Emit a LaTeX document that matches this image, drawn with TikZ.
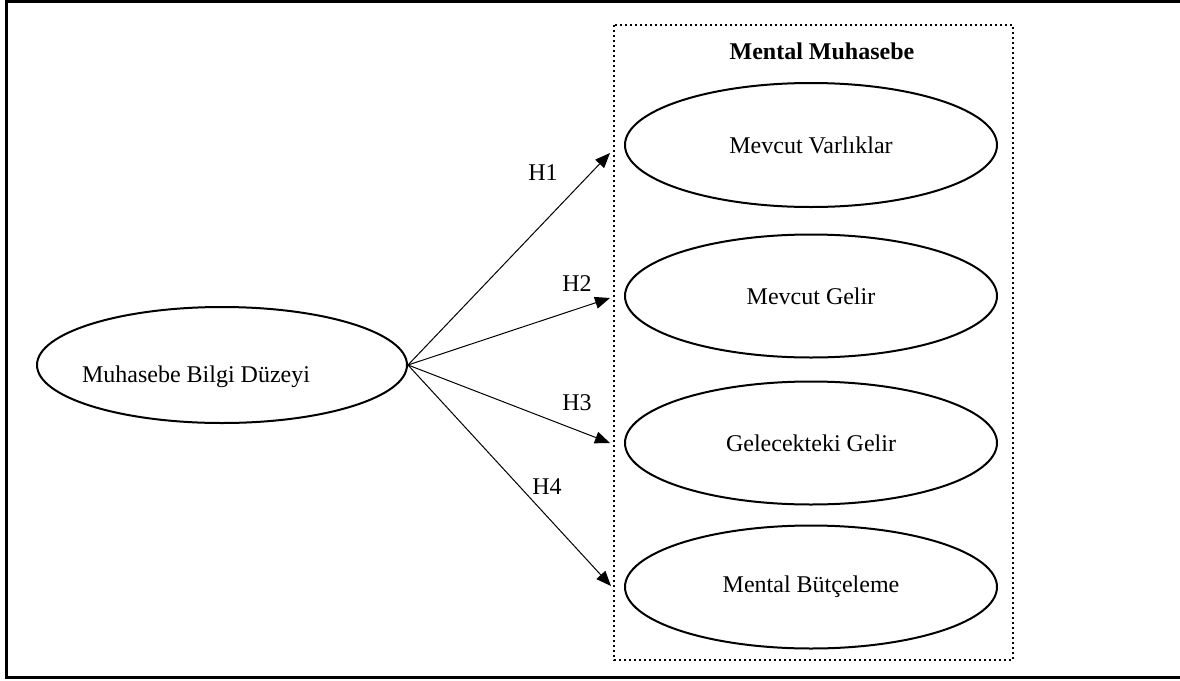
\documentclass[tikz,border=0pt]{standalone}
\usepackage{fontspec}
\setmainfont{Liberation Serif}
\usetikzlibrary{shapes.geometric,arrows.meta}
\tikzset{
  oval/.style={draw, ellipse, line width=1pt, minimum width=186pt, minimum height=61.5pt, inner sep=0pt},
  txt/.style={font=\fontsize{12}{14}\selectfont},
  hyp/.style={line width=0.5pt, -{Triangle[length=7.5pt,width=6pt]}}
}

\begin{document}
\begin{tikzpicture}[x=0.5pt,y=-0.5pt]
\useasboundingbox (0,0) rectangle (1180,681);
\draw[line width=1.5pt] (6,1) rectangle (1190,677);
\draw[line width=1.2pt, dash pattern=on 1.2pt off 1.3pt] (614,25) rectangle (1013,660);
\node[txt, font=\fontsize{12}{14}\selectfont\bfseries] (baslik) at (822,51) {Mental Muhasebe};
% ellipses
\node[oval, minimum width=185pt, minimum height=58pt,
  label={[txt, shift={(-13pt,-6pt)}]center:Muhasebe Bilgi Düzeyi}] (bilgi) at (222,365) {};
\node[oval, txt, minimum height=62pt] (varlik) at (811,145) {Mevcut Varlıklar};
\node[oval, txt] (gelir) at (811,296) {Mevcut Gelir};
\node[oval, txt] (gelecek) at (811,443) {Gelecekteki Gelir};
\node[oval, txt] (butce) at (811,587) {Mental Bütçeleme};
% arrow ends
\coordinate (u1) at (610,153);
\coordinate (u2) at (610,298);
\coordinate (u3) at (610,443);
\coordinate (u4) at (611,586);
\draw[hyp] (bilgi.east) -- (u1);
\draw[hyp] (bilgi.east) -- (u2);
\draw[hyp] (bilgi.east) -- (u3);
\draw[hyp] (bilgi.east) -- (u4);
\node[txt] (h1) at (543,173) {H1};
\node[txt] (h2) at (577,284) {H2};
\node[txt] (h3) at (577,403) {H3};
\node[txt] (h4) at (547,487) {H4};
\end{tikzpicture}
\end{document}
